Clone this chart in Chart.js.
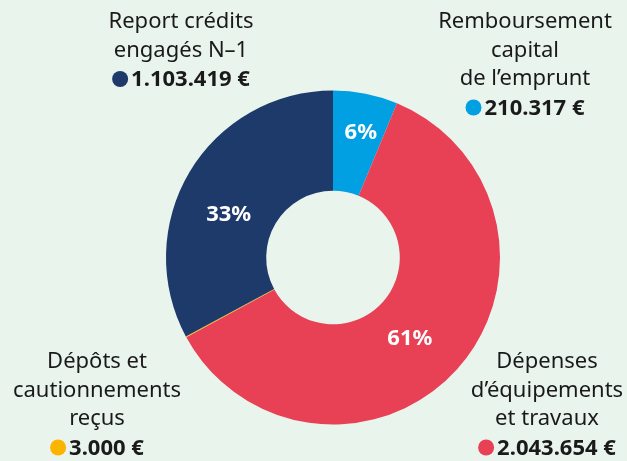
<!DOCTYPE html>
<html>
<head>
<meta charset="utf-8">
<script src="https://cdn.jsdelivr.net/npm/chart.js@4"></script>
<style>
  html, body { margin: 0; padding: 0; background: #e9f4ec; }
  #wrap { position: relative; width: 627px; height: 461px; }
</style>
</head>
<body>
<div id="wrap"><canvas id="donut"></canvas></div>
<script>
// order: clockwise from 12 o'clock
const Labels = [
    ["Remboursement", "capital", "de l\u2019emprunt"],
    ["D\u00e9penses", "d\u2019\u00e9quipements", "et travaux"],
    ["D\u00e9p\u00f4ts et", "cautionnements", "re\u00e7us"],
    ["Report cr\u00e9dits", "engag\u00e9s N\u20131"]
];
const Montants = [210317, 2043654, 3000, 1103419];
const Montants_txt = ["210.317 \u20ac", "2.043.654 \u20ac", "3.000 \u20ac", "1.103.419 \u20ac"];
const Pourcent_txt = ["6%", "61%", "", "33%"];
const Couleurs = ['#00a0e3', '#e84054', '#fbb400', '#1d3a6b'];

// where each label block sits (center x, first line y)
const blocs = [
    { x: 525, y: 22 },
    { x: 547, y: 362 },
    { x: 97, y: 362 },
    { x: 181, y: 22 }
];
// small nudges of the % labels from the arc middle
const decal = [[5, -10], [-10, 3], [0, 0], [-4, 17]];

const FONT = '"Noto Sans", "Open Sans", sans-serif';

const etiquettes = {
    id: 'etiquettes',
    afterDraw(chart) {
        const ctx = chart.ctx;
        const arcs = chart.getDatasetMeta(0).data;
        ctx.save();
        ctx.textAlign = 'center';
        ctx.textBaseline = 'middle';

        // pourcentages dans les parts
        ctx.fillStyle = '#ffffff';
        ctx.font = 'bold 22px ' + FONT;
        arcs.forEach((arc, i) => {
            if (!Pourcent_txt[i]) return;
            const p = arc.tooltipPosition();
            ctx.fillText(Pourcent_txt[i], p.x + decal[i][0], p.y + decal[i][1]);
        });

        // textes autour
        const lh = 28.5;
        Labels.forEach((lignes, i) => {
            const b = blocs[i];
            ctx.fillStyle = '#1a1a1a';
            ctx.font = '22px ' + FONT;
            lignes.forEach((l, k) => ctx.fillText(l, b.x, b.y + k * lh));
            const y = b.y + lignes.length * lh;
            ctx.font = 'bold 22px ' + FONT;
            const w = ctx.measureText(Montants_txt[i]).width;
            const total = 16 + 3 + w;
            const x0 = b.x - total / 2;
            ctx.beginPath();
            ctx.arc(x0 + 8, y, 8, 0, Math.PI * 2);
            ctx.fillStyle = Couleurs[i];
            ctx.fill();
            ctx.fillStyle = '#1a1a1a';
            ctx.textAlign = 'left';
            ctx.fillText(Montants_txt[i], x0 + 19, y + 1);
            ctx.textAlign = 'center';
        });
        ctx.restore();
    }
};

new Chart(document.getElementById('donut'), {
    type: 'doughnut',
    data: {
        labels: Labels.map(l => l.join(' ')),
        datasets: [{
            data: Montants,
            backgroundColor: Couleurs,
            borderWidth: 0
        }]
    },
    options: {
        responsive: true,
        maintainAspectRatio: false,
        animation: false,
        cutout: '40%',
        layout: { padding: { left: 166, right: 127, top: 90, bottom: 36 } },
        plugins: {
            legend: { display: false },
            tooltip: { enabled: false }
        }
    },
    plugins: [etiquettes]
});
</script>
</body>
</html>
